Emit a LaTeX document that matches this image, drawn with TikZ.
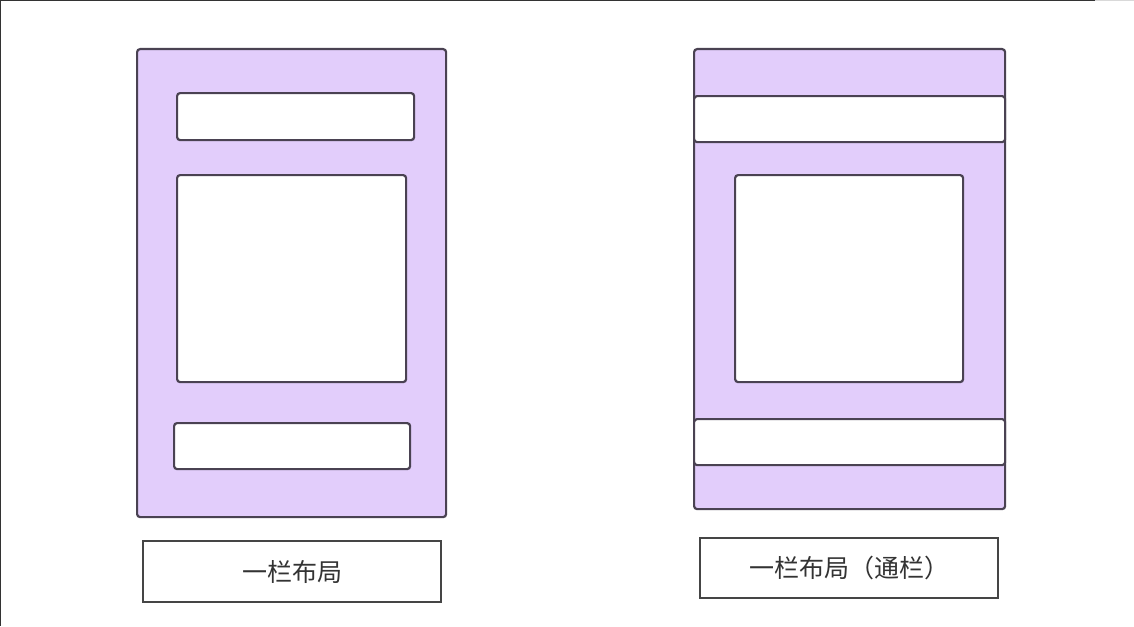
\documentclass[tikz,border=0pt]{standalone}
\usepackage{fontspec}
\newfontfamily\cjk{Noto Sans CJK SC}
\definecolor{panelfill}{HTML}{E2CDFB}
\definecolor{panelline}{HTML}{4A4252}
\definecolor{boxline}{HTML}{454545}
\definecolor{textgray}{HTML}{333333}
\begin{document}
\begin{tikzpicture}[x=1pt, y=-1pt,
        % stili
        panel/.style={draw=panelline, line width=2.2pt, fill=panelfill, rounded corners=3pt, inner sep=0pt, anchor=north west},
        block/.style={draw=panelline, line width=2.2pt, fill=white, rounded corners=3pt, inner sep=0pt, anchor=north west},
        caption/.style={draw=boxline, line width=2pt, fill=white, inner sep=0pt, anchor=north west, font=\cjk\fontsize{25}{30}\selectfont, text=textgray}
    ]
    \useasboundingbox (0,0) rectangle (1134,626);

    % 0. cornice
    \draw[line width=2.5pt, black!80] (0,0) -- (1095,0);
    \draw[line width=2.5pt, black!15] (1095,0) -- (1134,0);
    \draw[line width=1.6pt, black!80] (0,0) -- (0,626);

    % 1. Layout a sinistra
    \node[panel, minimum width=309pt, minimum height=468pt] (leftpanel) at (136,48) {};
    \node[block, minimum width=237pt, minimum height=47pt] (lefthead) at (176,92) {};
    \node[block, minimum width=229pt, minimum height=207pt] (leftmain) at (176,174) {};
    \node[block, minimum width=236pt, minimum height=46pt] (leftfoot) at (173,422) {};
    \node[caption, minimum width=298pt, minimum height=61pt] (leftcap) at (142,540) {一栏布局};

    % 2. Layout a destra (barre a tutta larghezza)
    \node[panel, minimum width=311pt, minimum height=460pt] (rightpanel) at (693,48) {};
    \node[block, minimum width=311pt, minimum height=46pt] (righthead) at (693,95) {};
    \node[block, minimum width=228pt, minimum height=207pt] (rightmain) at (734,174) {};
    \node[block, minimum width=311pt, minimum height=46pt] (rightfoot) at (693,418) {};
    \node[caption, minimum width=298pt, minimum height=60pt] (rightcap) at (699,537) {一栏布局（通栏）};

\end{tikzpicture}
\end{document}
